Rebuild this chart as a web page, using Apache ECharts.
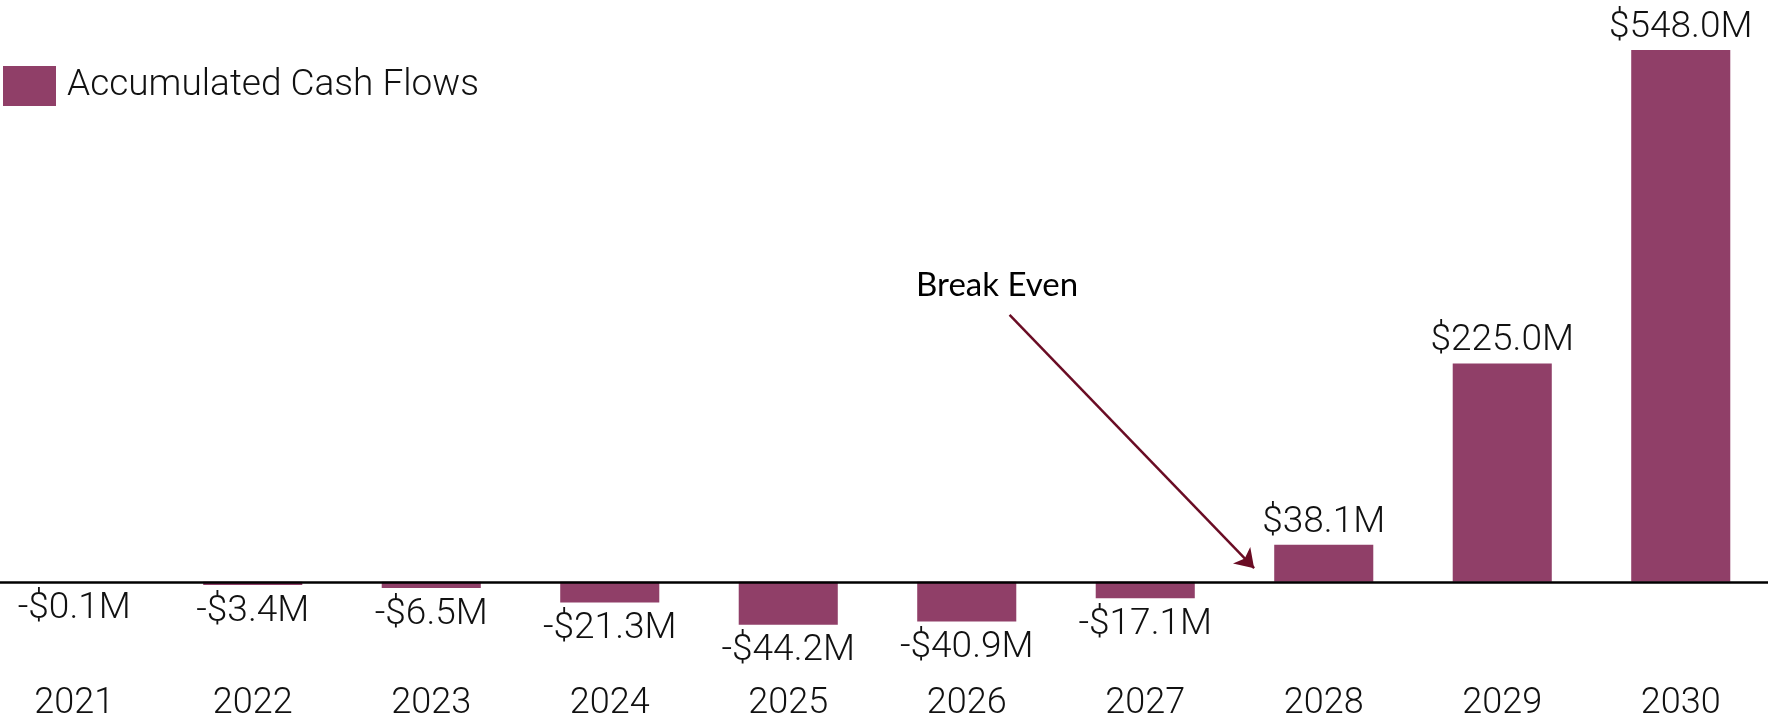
<!DOCTYPE html>
<html>
<head>
<meta charset="utf-8">
<title>Accumulated Cash Flows</title>
<script src="https://cdn.jsdelivr.net/npm/echarts@6/dist/echarts.min.js"></script>
<style>
  html, body { margin: 0; padding: 0; background: #ffffff; }
  #chart { width: 1768px; height: 716px; }
</style>
</head>
<body>
<div id="chart"></div>
<script>
// Years on the horizontal axis
const years = ['2021', '2022', '2023', '2024', '2025', '2026', '2027', '2028', '2029', '2030'];
// Accumulated cash flows, millions of dollars
const cashFlows = [-0.1, -3.4, -6.5, -21.3, -44.2, -40.9, -17.1, 38.1, 225.0, 548.0];
const seriesName = 'Accumulated Cash Flows';

// "Break Even" callout, in data space: [position along the years (index), value]
const breakEvenText = 'Break Even';
const arrowFrom = [5.24, 275];
const arrowTo = [6.61, 14];
const textAt = [5.17, 305];

const barColor = '#903f68';
const arrowColor = '#6a0c24';
const labelFont = 'Roboto';

function money(v) {
  return (v < 0 ? '-' : '') + '$' + Math.abs(v).toFixed(1) + 'M';
}

const chart = echarts.init(document.getElementById('chart'), null, { renderer: 'canvas' });

chart.setOption({
  backgroundColor: '#ffffff',
  animation: false,
  legend: {
    data: [seriesName],
    icon: 'rect',
    left: 3,
    top: 66,
    padding: 0,
    itemWidth: 53,
    itemHeight: 40,
    textStyle: {
      fontFamily: labelFont,
      fontWeight: 300,
      fontSize: 37,
      color: '#111111',
      padding: [4, 0, 0, 6]
    }
  },
  grid: {
    left: -15,
    right: -2,
    top: 50,
    bottom: 76,
    containLabel: false,
    outerBoundsMode: 'none'
  },
  xAxis: [{
    type: 'category',
    data: years,
    axisLine: { show: false, onZero: false },
    axisTick: { show: false },
    axisLabel: {
      margin: 46,
      fontFamily: labelFont,
      fontWeight: 300,
      fontSize: 36,
      color: '#111111'
    },
    splitLine: { show: false }
  }, {
    // continuous twin of the year axis, used to place the callout between years
    type: 'value',
    min: -0.5,
    max: 9.5,
    show: false,
    splitLine: { show: false }
  }],
  yAxis: {
    type: 'value',
    min: -60,
    max: 548,
    show: false,
    splitLine: { show: false }
  },
  series: [{
    name: seriesName,
    type: 'bar',
    barWidth: '55.5%',
    itemStyle: { color: barColor },
    data: cashFlows.map(v => ({
      value: v,
      label: { position: v < 0 ? 'bottom' : 'top', distance: v < 0 ? 8 : 4 }
    })),
    label: {
      show: true,
      formatter: p => money(p.value),
      fontFamily: labelFont,
      fontWeight: 300,
      fontSize: 37,
      color: '#111111'
    },
    markLine: {
      silent: true,
      symbol: 'none',
      lineStyle: { color: '#000000', width: 2.5, type: 'solid' },
      label: { show: false },
      data: [{ yAxis: 0 }]
    }
  }, {
    name: breakEvenText,
    type: 'line',
    xAxisIndex: 1,
    yAxisIndex: 0,
    data: [],
    markLine: {
      silent: true,
      symbol: ['none', 'arrow'],
      symbolSize: 18,
      lineStyle: { color: arrowColor, width: 2.5, type: 'solid' },
      label: { show: false },
      data: [[{ coord: arrowFrom }, { coord: arrowTo }]]
    },
    markPoint: {
      silent: true,
      symbol: 'circle',
      symbolSize: 0,
      label: {
        show: true,
        position: 'inside',
        formatter: breakEvenText,
        fontFamily: 'Lato',
        fontSize: 33,
        color: '#000000'
      },
      data: [{ coord: textAt }]
    }
  }]
});
</script>
</body>
</html>
